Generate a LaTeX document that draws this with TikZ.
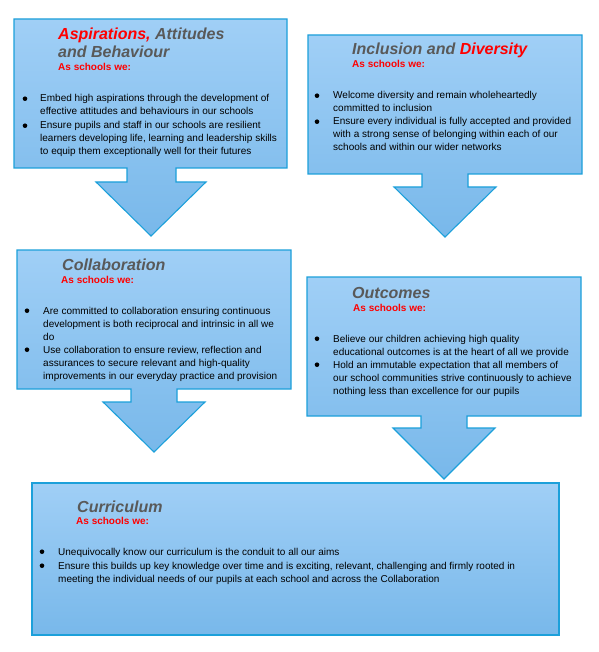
\documentclass[tikz,border=0pt]{standalone}
\usepackage{fontspec}
\setmainfont{Liberation Sans}
\definecolor{bordc}{RGB}{28,160,218}
\definecolor{filltop}{RGB}{160,207,246}
\definecolor{fillbot}{RGB}{120,184,234}
\definecolor{ttlgray}{RGB}{89,89,89}
\definecolor{redc}{RGB}{255,0,0}
\newcommand\lineblk[1]{\begin{tabular}[t]{@{}l@{}}#1\end{tabular}}
\tikzset{
  callout/.style={draw=bordc, line width=1.1pt, top color=filltop, bottom color=fillbot},
  ttl/.style={font=\fontsize{16}{18}\selectfont\bfseries\itshape, text=ttlgray, anchor=base west, inner sep=0pt},
  sub/.style={font=\fontsize{10}{12}\selectfont\bfseries, text=redc, anchor=base west, inner sep=0pt},
  body/.style={font=\fontsize{10}{13}\selectfont, text=black, anchor=base west, inner sep=0pt},
  bdot/.style={circle, fill=black, inner sep=0pt, minimum size=4.6pt, yshift=3.3pt}
}
\begin{document}
\begin{tikzpicture}[x=1pt,y=-1pt]
\useasboundingbox (0,0) rectangle (598,652);
% shapes
\path[callout] (14,19) -- (287,19) -- (287,168) -- (176,168) -- (176,182) -- (206,182) -- (151,236) -- (96,182) -- (127,182) -- (127,168) -- (14,168) -- cycle;
\path[callout] (308,35) -- (582,35) -- (582,174) -- (468,174) -- (468,187) -- (496,187) -- (445,237) -- (394,187) -- (422,187) -- (422,174) -- (308,174) -- cycle;
\path[callout] (17,250) -- (291,250) -- (291,389) -- (177,389) -- (177,402) -- (205,402) -- (154,452) -- (103,402) -- (131,402) -- (131,389) -- (17,389) -- cycle;
\path[callout] (307,277) -- (581,277) -- (581,416) -- (467,416) -- (467,428) -- (495,428) -- (444,479) -- (393,428) -- (421,428) -- (421,416) -- (307,416) -- cycle;
\path[callout] (32,483) rectangle (559,635);

% Box 1
\node[ttl] (t1a) at (58,40) {\textcolor{redc}{Aspirations,} Attitudes};
\node[ttl] (t1b) at (58,58) {and Behaviour};
\node[sub] (s1) at (58,71) {As schools we:};
\node[bdot] (d1a) at (25,102) {};
\node[body] (b1a) at (40,102) {\lineblk{Embed high aspirations through the development of\\effective attitudes and behaviours in our schools}};
\node[bdot] (d1b) at (25,129) {};
\node[body] (b1b) at (40,129) {\lineblk{Ensure pupils and staff in our schools are resilient\\learners developing life, learning and leadership skills\\to equip them exceptionally well for their futures}};

% Box 2
\node[ttl] (t2) at (352,55) {Inclusion and \textcolor{redc}{Diversity}};
\node[sub] (s2) at (352,68) {As schools we:};
\node[bdot] (d2a) at (317,99) {};
\node[body] (b2a) at (333,99) {\lineblk{Welcome diversity and remain wholeheartedly\\committed to inclusion}};
\node[bdot] (d2b) at (317,125) {};
\node[body] (b2b) at (333,125) {\lineblk{Ensure every individual is fully accepted and provided\\with a strong sense of belonging within each of our\\schools and within our wider networks}};

% Box 3
\node[ttl] (t3) at (62,270) {Collaboration};
\node[sub] (s3) at (61,283) {As schools we:};
\node[bdot] (d3a) at (27,314) {};
\node[body] (b3a) at (43,314) {\lineblk{Are committed to collaboration ensuring continuous\\development is both reciprocal and intrinsic in all we\\do}};
\node[bdot] (d3b) at (27,353) {};
\node[body] (b3b) at (43,353) {\lineblk{Use collaboration to ensure review, reflection and\\assurances to secure relevant and high-quality\\improvements in our everyday practice and provision}};

% Box 4
\node[ttl] (t4) at (352,298) {Outcomes};
\node[sub] (s4) at (353,311) {As schools we:};
\node[bdot] (d4a) at (317,342) {};
\node[body] (b4a) at (333,342) {\lineblk{Believe our children achieving high quality\\educational outcomes is at the heart of all we provide}};
\node[bdot] (d4b) at (317,368) {};
\node[body] (b4b) at (333,368) {\lineblk{Hold an immutable expectation that all members of\\our school communities strive continuously to achieve\\nothing less than excellence for our pupils}};

% Box 5
\node[ttl] (t5) at (77,512) {Curriculum};
\node[sub] (s5) at (76,524) {As schools we:};
\node[bdot] (d5a) at (42,555) {};
\node[body] (b5a) at (58,555) {\lineblk{Unequivocally know our curriculum is the conduit to all our aims}};
\node[bdot] (d5b) at (42,569) {};
\node[body] (b5b) at (58,569) {\lineblk{Ensure this builds up key knowledge over time and is exciting, relevant, challenging and firmly rooted in\\meeting the individual needs of our pupils at each school and across the Collaboration}};
\end{tikzpicture}
\end{document}
